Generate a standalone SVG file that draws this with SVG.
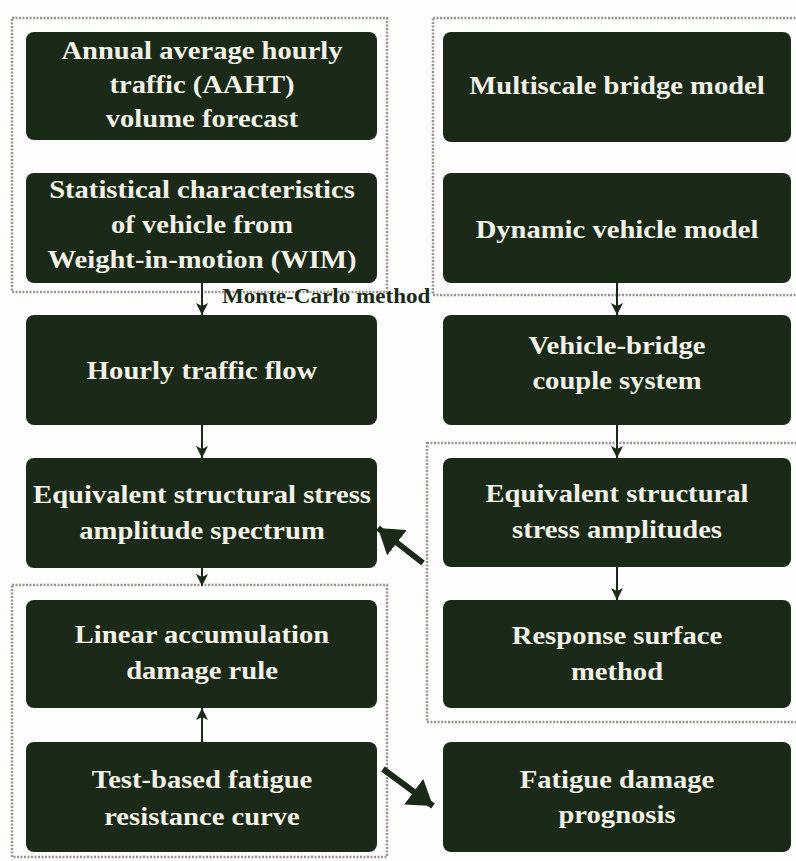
<svg xmlns="http://www.w3.org/2000/svg" width="796" height="861" viewBox="0 0 796 861">
  <style>
    .box { fill: #1b2a18; }
    .lbl { font-family: "Liberation Serif", "Times New Roman", serif; font-weight: bold; font-size: 26px; fill: #f3f1e7; text-anchor: middle; }
    .note { font-family: "Liberation Serif", "Times New Roman", serif; font-weight: bold; font-size: 21px; fill: #1b2a18; }
    .grp { fill: none; stroke: #9e9292; stroke-width: 2.5; stroke-dasharray: 2 1.5; }
    .thin { fill: none; stroke: #1b2a18; stroke-width: 2; }
    .thick { fill: none; stroke: #1b2a18; stroke-width: 6; }
  </style>
  <defs>
    <marker id="head" viewBox="0 0 12 12" refX="12" refY="6" markerWidth="12" markerHeight="12" markerUnits="userSpaceOnUse" orient="auto">
      <path d="M0,0 L12,6 L0,12 L3,6 Z" fill="#1b2a18"/>
    </marker>
    <marker id="bigHead" viewBox="0 0 24 32" refX="24" refY="16" markerWidth="24" markerHeight="32" markerUnits="userSpaceOnUse" orient="auto">
      <path d="M0,0 L24,16 L0,32 Z" fill="#1b2a18"/>
    </marker>
  </defs>

  <rect width="796" height="861" fill="#fdfdfd"/>

  <!-- dashed grouping frames -->
  <g id="frames">
    <rect class="grp" x="12" y="18" width="375" height="274"/>
    <rect class="grp" x="433" y="18" width="370" height="277"/>
    <rect class="grp" x="427" y="443" width="376" height="279"/>
    <rect class="grp" x="12" y="585" width="375" height="272"/>
  </g>

  <!-- left column -->
  <g id="aaht">
    <rect class="box" x="26" y="32" width="351" height="108" rx="8"/>
    <g transform="translate(202 0) scale(1.1 1)">
      <text class="lbl" x="0" y="59">Annual average hourly</text>
      <text class="lbl" x="0" y="93">traffic (AAHT)</text>
      <text class="lbl" x="0" y="127">volume forecast</text>
    </g>
  </g>
  <g id="wim">
    <rect class="box" x="26" y="173" width="351" height="110" rx="8"/>
    <g transform="translate(202 0) scale(1.1 1)">
      <text class="lbl" x="0" y="198">Statistical characteristics</text>
      <text class="lbl" x="0" y="233">of vehicle from</text>
      <text class="lbl" x="0" y="268">Weight-in-motion (WIM)</text>
    </g>
  </g>
  <g id="hourly">
    <rect class="box" x="26" y="315" width="351" height="110" rx="8"/>
    <g transform="translate(202 0) scale(1.1 1)">
      <text class="lbl" x="0" y="379">Hourly traffic flow</text>
    </g>
  </g>
  <g id="spectrum">
    <rect class="box" x="26" y="458" width="351" height="110" rx="8"/>
    <g transform="translate(202 0) scale(1.1 1)">
      <text class="lbl" x="0" y="503">Equivalent structural stress</text>
      <text class="lbl" x="0" y="539">amplitude spectrum</text>
    </g>
  </g>
  <g id="miner">
    <rect class="box" x="26" y="600" width="351" height="108" rx="8"/>
    <g transform="translate(202 0) scale(1.1 1)">
      <text class="lbl" x="0" y="643">Linear accumulation</text>
      <text class="lbl" x="0" y="679">damage rule</text>
    </g>
  </g>
  <g id="sn-curve">
    <rect class="box" x="26" y="742" width="351" height="110" rx="8"/>
    <g transform="translate(202 0) scale(1.1 1)">
      <text class="lbl" x="0" y="788">Test-based fatigue</text>
      <text class="lbl" x="0" y="825">resistance curve</text>
    </g>
  </g>

  <!-- right column -->
  <g id="bridge-model">
    <rect class="box" x="443" y="32" width="348" height="110" rx="8"/>
    <g transform="translate(617 0) scale(1.1 1)">
      <text class="lbl" x="0" y="94">Multiscale bridge model</text>
    </g>
  </g>
  <g id="vehicle-model">
    <rect class="box" x="443" y="173" width="348" height="110" rx="8"/>
    <g transform="translate(617 0) scale(1.1 1)">
      <text class="lbl" x="0" y="238">Dynamic vehicle model</text>
    </g>
  </g>
  <g id="coupled">
    <rect class="box" x="443" y="315" width="348" height="110" rx="8"/>
    <g transform="translate(617 0) scale(1.1 1)">
      <text class="lbl" x="0" y="354">Vehicle-bridge</text>
      <text class="lbl" x="0" y="389">couple system</text>
    </g>
  </g>
  <g id="amplitudes">
    <rect class="box" x="443" y="458" width="348" height="109" rx="8"/>
    <g transform="translate(617 0) scale(1.1 1)">
      <text class="lbl" x="0" y="502">Equivalent structural</text>
      <text class="lbl" x="0" y="538">stress amplitudes</text>
    </g>
  </g>
  <g id="rsm">
    <rect class="box" x="443" y="600" width="348" height="108" rx="8"/>
    <g transform="translate(617 0) scale(1.1 1)">
      <text class="lbl" x="0" y="644">Response surface</text>
      <text class="lbl" x="0" y="680">method</text>
    </g>
  </g>
  <g id="prognosis">
    <rect class="box" x="443" y="742" width="348" height="110" rx="8"/>
    <g transform="translate(617 0) scale(1.1 1)">
      <text class="lbl" x="0" y="788">Fatigue damage</text>
      <text class="lbl" x="0" y="823">prognosis</text>
    </g>
  </g>

  <!-- connectors -->
  <g id="connectors">
    <line class="thin" x1="202" y1="283" x2="202" y2="315" marker-end="url(#head)"/>
    <line class="thin" x1="202" y1="425" x2="202" y2="458" marker-end="url(#head)"/>
    <line class="thin" x1="202" y1="568" x2="202" y2="586" marker-end="url(#head)"/>
    <line class="thin" x1="202" y1="742" x2="202" y2="708" marker-end="url(#head)"/>
    <line class="thin" x1="617" y1="283" x2="617" y2="315" marker-end="url(#head)"/>
    <line class="thin" x1="617" y1="425" x2="617" y2="458" marker-end="url(#head)"/>
    <line class="thin" x1="617" y1="567" x2="617" y2="600" marker-end="url(#head)"/>
    <line class="thick" x1="423" y1="563" x2="378" y2="528" marker-end="url(#bigHead)"/>
    <line class="thick" x1="383" y1="769" x2="433" y2="806" marker-end="url(#bigHead)"/>
    <g transform="translate(222 0) scale(1.1 1)">
      <text class="note" x="0" y="303">Monte-Carlo method</text>
    </g>
  </g>
</svg>
